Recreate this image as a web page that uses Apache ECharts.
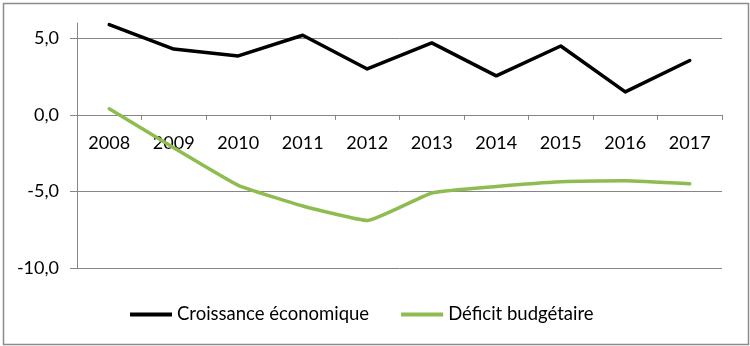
<!DOCTYPE html>
<html>
<head>
<meta charset="utf-8">
<script src="https://cdn.jsdelivr.net/npm/echarts@6/dist/echarts.min.js"></script>
<style>
html,body{margin:0;padding:0;background:#fff;}
#c{width:750px;height:346px;}
</style>
</head>
<body>
<div id="c"></div>
<script>
const years = ['2008','2009','2010','2011','2012','2013','2014','2015','2016','2017'];
const croissance = [5.9, 4.3, 3.85, 5.2, 3.0, 4.7, 2.55, 4.5, 1.5, 3.55];
const deficit = [0.4, -2.15, -4.6, -5.95, -6.9, -5.1, -4.68, -4.37, -4.3, -4.5];
const yTicks = [-10, -5, 0, 5];
const seriesNames = ['Croissance économique', 'Déficit budgétaire'];

const FONT = 'Lato';
const Y_MIN = -10, Y_MAX = 6;
const GRID = {left: 77, right: 28, top: 23, bottom: 78};
const H = 346;
const gridH = H - GRID.top - GRID.bottom;
// category axis crosses the value axis at 0
const xOffset = -((0 - Y_MIN) / (Y_MAX - Y_MIN)) * gridH;

const chart = echarts.init(document.getElementById('c'), null, {renderer: 'canvas'});
const fmt = v => yTicks.indexOf(v) >= 0 ? v.toFixed(1).replace('.', ',') : '';
chart.setOption({
  animation: false,
  backgroundColor: '#fff',
  graphic: [{
    type: 'rect', left: 1, top: 1, z: -1,
    shape: {x: 0, y: 0, width: 745, height: 341},
    style: {fill: 'none', stroke: '#8c8c8c', lineWidth: 1.5}
  }],
  grid: Object.assign({containLabel: false}, GRID),
  legend: {
    left: 125, top: 300, padding: 5,
    icon: 'rect',
    itemWidth: 42, itemHeight: 4, itemGap: 32,
    textStyle: {fontFamily: FONT, fontSize: 18.5, color: '#000'},
    data: seriesNames
  },
  xAxis: {
    type: 'category',
    data: years,
    boundaryGap: true,
    position: 'bottom',
    offset: xOffset,
    axisLine: {show: true, onZero: false, lineStyle: {color: '#868686', width: 1}},
    axisTick: {show: true, inside: false, length: 5, lineStyle: {color: '#868686'}},
    axisLabel: {fontFamily: FONT, fontSize: 18, color: '#000', margin: 19, interval: 0},
    splitLine: {show: false}
  },
  yAxis: {
    type: 'value',
    min: Y_MIN, max: Y_MAX, interval: 5,
    axisLine: {show: true, lineStyle: {color: '#868686', width: 1}},
    axisTick: {show: true, length: 7, customValues: yTicks, lineStyle: {color: '#868686'}},
    axisLabel: {fontFamily: FONT, fontSize: 18, color: '#000', margin: 18, formatter: fmt},
    splitLine: {show: true, lineStyle: {color: '#868686', width: 1}}
  },
  series: [
    {
      name: seriesNames[0], type: 'line', data: croissance,
      symbol: 'none', smooth: false,
      lineStyle: {color: '#000', width: 3.5, join: 'round', cap: 'round'},
      itemStyle: {color: '#000'}
    },
    {
      name: seriesNames[1], type: 'line', data: deficit,
      symbol: 'none', smooth: 0.12,
      lineStyle: {color: '#8fbc50', width: 3.5, join: 'round', cap: 'round'},
      itemStyle: {color: '#8fbc50'}
    }
  ]
});
</script>
</body>
</html>
